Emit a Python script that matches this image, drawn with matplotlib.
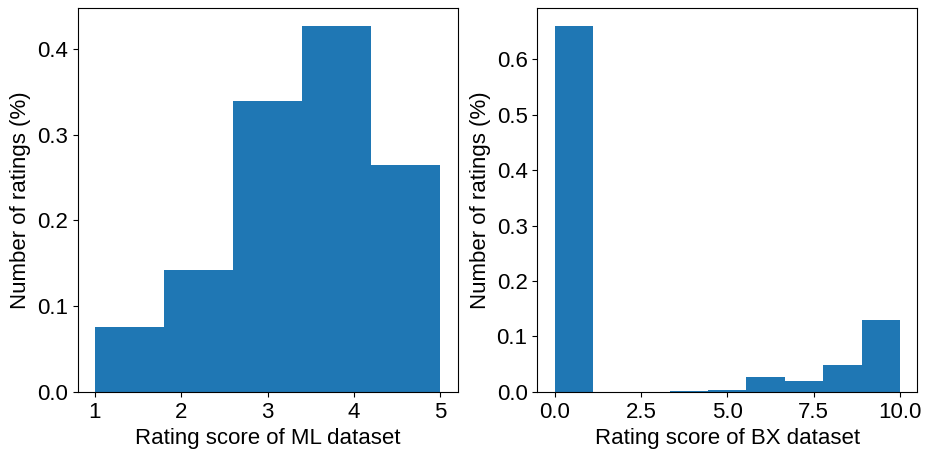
import numpy as np
import matplotlib
matplotlib.use("Agg")
import matplotlib.pyplot as plt

plt.rcParams["font.family"] = ["Liberation Sans", "DejaVu Sans"]
plt.rcParams["font.size"] = 16

# ML dataset: ratings 1-5, 5 bins, density heights
ml_edges = np.linspace(1, 5, 6)
ml_density = [0.076, 0.142, 0.339, 0.426, 0.264]

# BX dataset: ratings 0-10, 9 bins, density heights
bx_edges = np.linspace(0, 10, 10)
bx_density = [0.659, 0.0, 0.0004, 0.0018, 0.0036, 0.027, 0.020, 0.049, 0.130]

fig, (ax1, ax2) = plt.subplots(1, 2, figsize=(9.35, 4.5), dpi=100)

ml_centers = (ml_edges[:-1] + ml_edges[1:]) / 2
ax1.hist(ml_centers, bins=ml_edges, weights=ml_density, color="#1f77b4")
ax1.set_xlabel("Rating score of ML dataset")
ax1.set_ylabel("Number of ratings (%)")
ax1.set_xticks([1, 2, 3, 4, 5])
ax1.set_yticks([0.0, 0.1, 0.2, 0.3, 0.4])

bx_centers = (bx_edges[:-1] + bx_edges[1:]) / 2
ax2.hist(bx_centers, bins=bx_edges, weights=bx_density, color="#1f77b4")
ax2.set_xlabel("Rating score of BX dataset")
ax2.set_ylabel("Number of ratings (%)")
ax2.set_xticks([0.0, 2.5, 5.0, 7.5, 10.0])

fig.subplots_adjust(left=0.083, right=0.981, bottom=0.129, top=0.982, wspace=0.21)
fig.savefig("out.png")
